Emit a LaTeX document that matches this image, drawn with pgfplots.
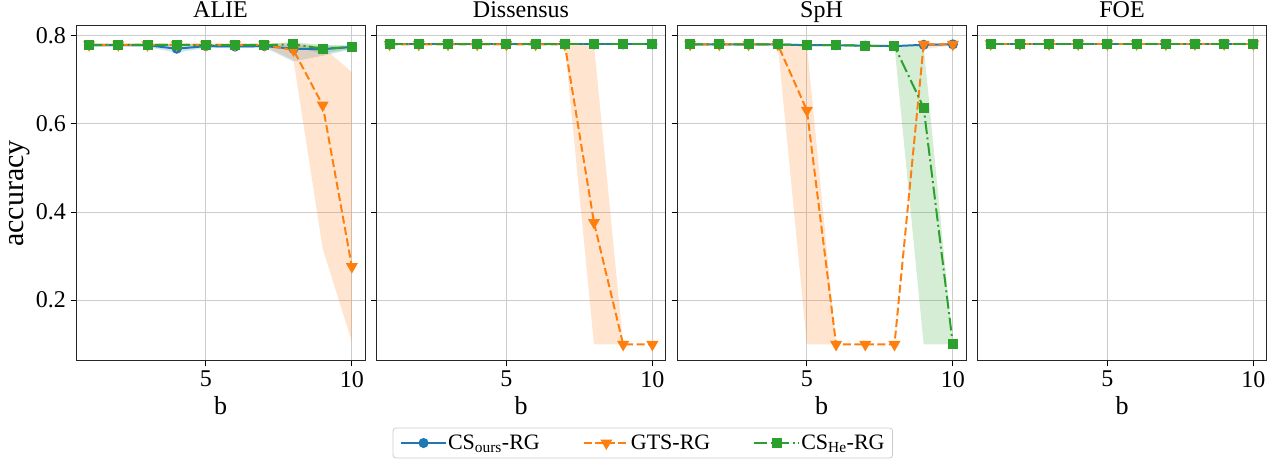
\documentclass[border=0pt]{standalone}
\usepackage{fontspec}
\setmainfont{Liberation Serif}
\usepackage{pgfplots}
\pgfplotsset{compat=1.18}
\definecolor{tabblue}{RGB}{31,119,180}
\definecolor{taborange}{RGB}{255,127,14}
\definecolor{tabgreen}{RGB}{44,160,44}
\newcommand{\fs}[1]{\fontsize{#1}{#1}\selectfont}
\pgfplotsset{
  panel/.style={
    scale only axis, width=289pt, height=335pt,
    anchor=south west,
    xmin=0.55, xmax=10.45, ymin=0.0614, ymax=0.8227,
    xtick={5,10}, ytick={0.2,0.4,0.6,0.8},
    tick align=outside, tick pos=left,
    major tick length=5.5pt,
    tick style={black, line width=1pt},
    axis line style={black!85, line width=1pt},
    grid=major, major grid style={black!20, line width=1pt},
    ticklabel style={font=\fs{24}},
    xticklabel style={inner ysep=4.5pt},
    yticklabel style={inner xsep=4.5pt},
    /pgf/number format/assume math mode=true,
    yticklabel style={/pgf/number format/.cd, fixed, fixed zerofill, precision=1},
    xlabel={b},
    xlabel style={font=\fs{26}, at={(axis description cs:0.5,-0.134)}, anchor=center},
    every axis title shift=0pt,
    title style={font=\fs{24}, at={(axis description cs:0.5,1.0254)}, anchor=base},
    legend image code/.code={\draw[mark repeat=2, mark phase=2, #1] plot coordinates {(0pt,0pt) (22.5pt,0pt) (45pt,0pt)};},
  },
  bl/.style={color=tabblue, line width=2pt, mark=*, mark size=4},
  or/.style={color=taborange, line width=2pt, dash pattern=on 8pt off 3.5pt, mark=triangle*, mark size=5, mark options={rotate=180, solid}},
  gr/.style={color=tabgreen, line width=2pt, dash pattern=on 13pt off 3.5pt on 2pt off 3.5pt, mark=square*, mark size=4, mark options={solid}},
  bandb/.style={fill=tabblue, fill opacity=0.2, draw=none, forget plot},
  bando/.style={fill=taborange, fill opacity=0.2, draw=none, forget plot},
  bandg/.style={fill=tabgreen, fill opacity=0.2, draw=none, forget plot},
}
\begin{document}
\begin{tikzpicture}
\useasboundingbox (0pt,0pt) rectangle (1281pt,468pt);
% ---------- ALIE ----------
\begin{axis}[panel, at={(76pt,107pt)}, title={ALIE}, ylabel={accuracy},
  ylabel style={font=\fs{30}, at={(axis description cs:-0.194,0.5)}, anchor=center}]
\addplot[bandb] coordinates {(1,0.782) (2,0.782) (3,0.782) (4,0.779) (5,0.781) (6,0.780) (7,0.780) (8,0.779) (9,0.778) (10,0.778)
  (10,0.770) (9,0.755) (8,0.742) (7,0.774) (6,0.772) (5,0.773) (4,0.762) (3,0.775) (2,0.776) (1,0.775)} -- cycle;
\addplot[bando] coordinates {(1,0.783) (2,0.783) (3,0.783) (4,0.783) (5,0.783) (6,0.783) (7,0.783) (8,0.785) (9,0.775) (10,0.718)
  (10,0.105) (9,0.317) (8,0.745) (7,0.777) (6,0.777) (5,0.777) (4,0.777) (3,0.777) (2,0.777) (1,0.777)} -- cycle;
\addplot[bandg] coordinates {(1,0.782) (7,0.782) (8,0.786) (9,0.780) (10,0.778) (10,0.771) (9,0.760) (8,0.775) (7,0.778) (1,0.778)} -- cycle;
\addplot[bl] coordinates {(1,0.779) (2,0.779) (3,0.779) (4,0.771) (5,0.777) (6,0.776) (7,0.777) (8,0.771) (9,0.770) (10,0.775)};
\addplot[or] coordinates {(1,0.780) (2,0.780) (3,0.780) (4,0.780) (5,0.780) (6,0.780) (7,0.780) (8,0.768) (9,0.643) (10,0.276)};
\addplot[gr] coordinates {(1,0.780) (2,0.780) (3,0.780) (4,0.780) (5,0.779) (6,0.779) (7,0.779) (8,0.781) (9,0.771) (10,0.775)};
\end{axis}
% ---------- Dissensus ----------
\begin{axis}[panel, at={(376.5pt,107pt)}, title={Dissensus}, yticklabels={},
  legend columns=3,
  legend style={at={(axis description cs:0.9215,-0.2448)}, anchor=center, draw=black!20, line width=0.8pt,
    rounded corners=3pt, fill=white, font=\fs{22}, inner xsep=7pt, inner ysep=6pt,
    nodes={inner sep=1pt},
    /tikz/every even column/.append style={column sep=42pt}},
  legend cell align=left]
\addplot[bando] coordinates {(7,0.781) (8,0.781) (9,0.099) (8,0.099)} -- cycle;
\addplot[bl] coordinates {(1,0.781) (2,0.781) (3,0.781) (4,0.781) (5,0.781) (6,0.781) (7,0.781) (8,0.781) (9,0.781) (10,0.781)};
\addplot[or] coordinates {(1,0.781) (2,0.781) (3,0.781) (4,0.781) (5,0.781) (6,0.781) (7,0.781) (8,0.376) (9,0.099) (10,0.099)};
\addplot[gr] coordinates {(1,0.781) (2,0.781) (3,0.781) (4,0.781) (5,0.781) (6,0.781) (7,0.781) (8,0.781) (9,0.781) (10,0.781)};
\legend{CS\textsubscript{ours}-RG, GTS-RG, CS\textsubscript{He}-RG}
\end{axis}
% ---------- SpH ----------
\begin{axis}[panel, at={(677pt,107pt)}, title={SpH}, yticklabels={}]
\addplot[bando] coordinates {(4,0.781) (5,0.779) (6,0.099) (5,0.099)} -- cycle;
\addplot[bando] coordinates {(8,0.099) (9,0.786) (10,0.783) (10,0.779) (9,0.770)} -- cycle;
\addplot[bandg] coordinates {(8,0.777) (9,0.777) (10,0.099) (9,0.099)} -- cycle;
\addplot[bl] coordinates {(1,0.781) (2,0.781) (3,0.781) (4,0.781) (5,0.779) (6,0.779) (7,0.778) (8,0.777) (9,0.780) (10,0.781)};
\addplot[or] coordinates {(1,0.781) (2,0.781) (3,0.781) (4,0.781) (5,0.631) (6,0.099) (7,0.099) (8,0.099) (9,0.781) (10,0.781)};
\addplot[gr] coordinates {(1,0.781) (2,0.781) (3,0.781) (4,0.781) (5,0.779) (6,0.779) (7,0.778) (8,0.777) (9,0.637) (10,0.099)};
\end{axis}
% ---------- FOE ----------
\begin{axis}[panel, at={(977.5pt,107pt)}, title={FOE}, yticklabels={}]
\addplot[bl] coordinates {(1,0.781) (2,0.781) (3,0.781) (4,0.781) (5,0.781) (6,0.781) (7,0.781) (8,0.781) (9,0.781) (10,0.781)};
\addplot[or] coordinates {(1,0.782) (2,0.782) (3,0.782) (4,0.782) (5,0.782) (6,0.782) (7,0.782) (8,0.782) (9,0.782) (10,0.782)};
\addplot[gr] coordinates {(1,0.781) (2,0.781) (3,0.781) (4,0.781) (5,0.781) (6,0.781) (7,0.781) (8,0.781) (9,0.781) (10,0.781)};
\end{axis}
\end{tikzpicture}
\end{document}
